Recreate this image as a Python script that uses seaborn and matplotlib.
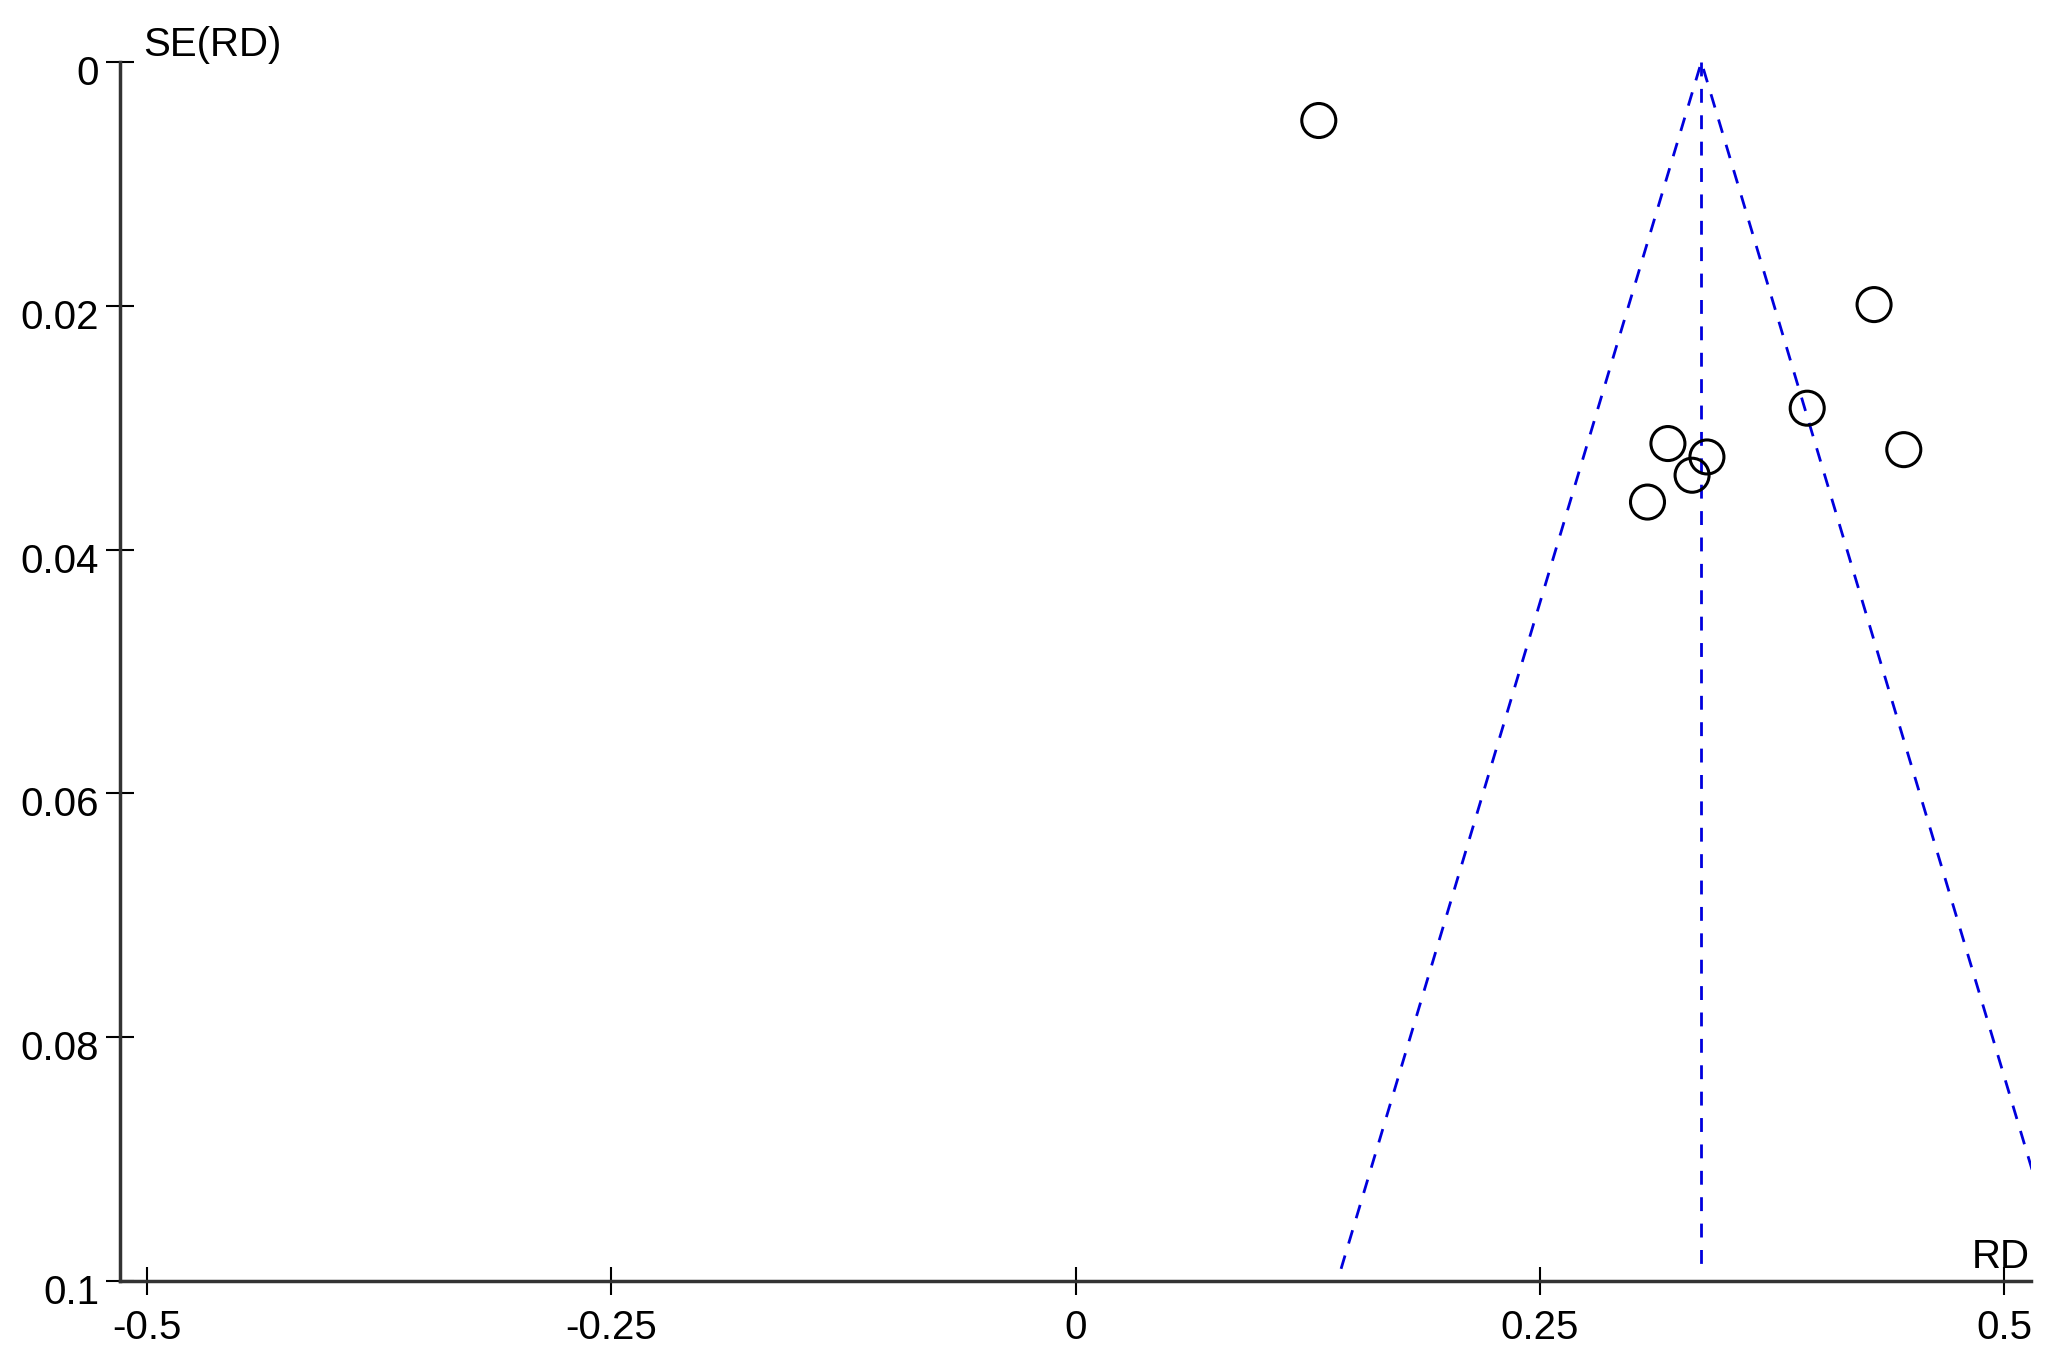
import numpy as np
import pandas as pd
import matplotlib
matplotlib.use("Agg")
import matplotlib.pyplot as plt
import matplotlib.transforms as mtransforms
import seaborn as sns

# study points
rd = [0.131, 0.430, 0.394, 0.446, 0.319, 0.340, 0.332, 0.308]
se = [0.0048, 0.0199, 0.0284, 0.0318, 0.0313, 0.0324, 0.0339, 0.0361]

# funnel outline (left bottom, apex, right bottom) and pooled line
funnel_rd = [0.143, 0.337, 0.531]
funnel_se = [0.099, 0.0, 0.099]
pooled_rd = [0.337, 0.337]
pooled_se = [0.0, 0.099]

xticks = [-0.5, -0.25, 0, 0.25, 0.5]
xlabels = ["-0.5", "-0.25", "0", "0.25", "0.5"]
yticks = [0, 0.02, 0.04, 0.06, 0.08, 0.1]
ylabels = ["0", "0.02", "0.04", "0.06", "0.08", "0.1"]

points = pd.DataFrame({"RD": rd, "SE": se})

sns.set_theme(style="white")
plt.rcParams["font.family"] = ["Liberation Sans", "DejaVu Sans"]

W, H = 2059, 1359
fig = plt.figure(figsize=(W / 100, H / 100), dpi=100)
ax = fig.add_axes([120 / W, 1 - 1281 / H, (2031 - 120) / W, (1281 - 62) / H])

blue = "#0000dd"
lw = 2.0
dash = (0, (10 / lw, 9 / lw))
sns.lineplot(x=funnel_rd, y=funnel_se, sort=False, estimator=None, ax=ax,
             color=blue, lw=lw, linestyle=dash)
sns.lineplot(x=pooled_rd, y=pooled_se, sort=False, estimator=None, ax=ax,
             color=blue, lw=lw, linestyle=dash)

sns.scatterplot(data=points, x="RD", y="SE", ax=ax, marker="o", s=600,
                facecolor="none", edgecolor="black", linewidth=2.2, zorder=3)

ax.set_xlim(-0.5145, 0.5145)
ax.set_ylim(0.1, 0)
ax.set_xticks(xticks)
ax.set_xticklabels(xlabels)
ax.set_yticks(yticks)
ax.set_yticklabels(ylabels)
ax.set_xlabel("")
ax.set_ylabel("")

for side in ["top", "right"]:
    ax.spines[side].set_visible(False)
for side in ["left", "bottom"]:
    ax.spines[side].set_color("#333333")
    ax.spines[side].set_linewidth(2.5)

ax.tick_params(axis="both", direction="inout", length=20, width=1.5,
               color="black", labelsize=29, labelcolor="black",
               bottom=True, left=True)
ax.tick_params(axis="x", pad=10)
ax.tick_params(axis="y", pad=5)

shift = mtransforms.ScaledTranslation(0, -8 / 100, fig.dpi_scale_trans)
for lab in ax.get_yticklabels():
    lab.set_transform(lab.get_transform() + shift)

fig.text(143 / W, 1 - 56 / H, "SE(RD)", fontsize=29, color="black",
         ha="left", va="baseline")
fig.text(2030 / W, 1 - 1268 / H, "RD", fontsize=29, color="black",
         ha="right", va="baseline")

fig.savefig("out.png", dpi=100, facecolor="white")
